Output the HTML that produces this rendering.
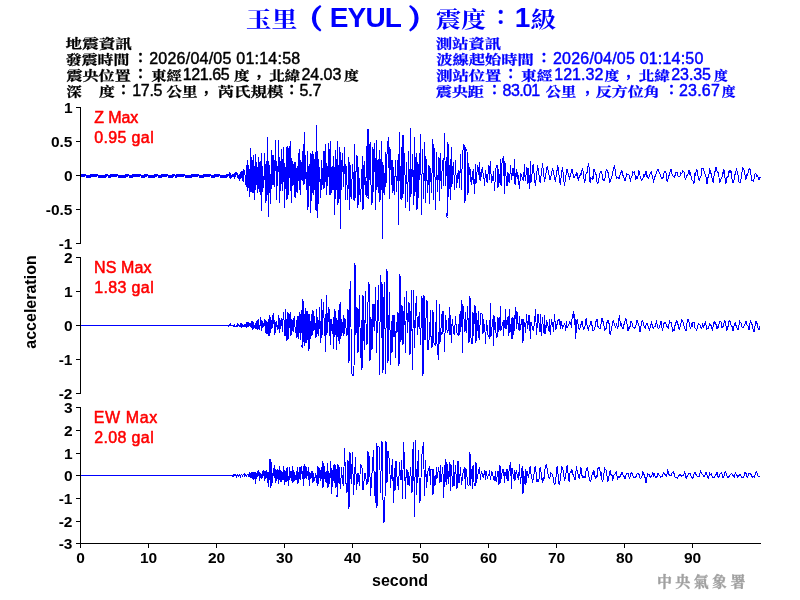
<!DOCTYPE html>
<html><head><meta charset="utf-8"><title>玉里（EYUL）震度：1級</title>
<style>
html,body{margin:0;padding:0;background:#fff;}
body{width:800px;height:600px;position:relative;overflow:hidden;}
svg{position:absolute;left:0;top:0;display:block;}
</style></head><body>
<svg width="800" height="600" viewBox="0 0 800 600">
<rect width="800" height="600" fill="#fff"/>
<g fill="none" stroke="#0000ff" stroke-width="1" shape-rendering="crispEdges" stroke-linejoin="miter">
<polyline points="81.00,174.5 81.50,175.5 82.00,174.5 82.50,175.5 83.00,174.5 83.50,175.5 84.00,174.5 84.50,175.5 85.00,174.5 85.50,175.5 86.00,175.5 86.50,176.5 87.00,175.5 87.50,176.5 88.00,175.5 88.50,176.5 89.00,175.5 89.50,176.5 90.00,175.5 90.50,176.5 91.00,174.5 91.50,175.5 92.00,174.5 92.50,175.5 93.00,174.5 93.50,175.5 94.00,174.5 94.50,175.5 95.00,174.5 95.50,175.5 96.00,174.5 96.50,175.5 97.00,174.5 97.50,175.5 98.00,175.5 98.50,176.5 99.00,175.5 99.50,176.5 100.00,175.5 100.50,176.5 101.00,175.5 101.50,176.5 102.00,175.5 102.50,176.5 103.00,175.5 103.50,176.5 104.00,175.5 104.50,176.5 105.00,175.5 105.50,176.5 106.00,174.5 106.50,175.5 107.00,174.5 107.50,175.5 108.00,175.5 108.50,176.5 109.00,175.5 109.50,176.5 110.00,175.5 110.50,176.5 111.00,174.5 111.50,175.5 112.00,174.5 112.50,175.5 113.00,174.5 113.50,175.5 114.00,174.5 114.50,175.5 115.00,174.5 115.50,175.5 116.00,174.5 116.50,175.5 117.00,174.5 117.50,175.5 118.00,175.5 118.50,176.5 119.00,175.5 119.50,176.5 120.00,175.5 120.50,176.5 121.00,175.5 121.50,176.5 122.00,175.5 122.50,176.5 123.00,175.5 123.50,176.5 124.00,175.5 124.50,176.5 125.00,175.5 125.50,176.5 126.00,174.5 126.50,175.5 127.00,174.5 127.50,175.5 128.00,174.5 128.50,175.5 129.00,175.5 129.50,176.5 130.00,175.5 130.50,176.5 131.00,175.5 131.50,176.5 132.00,175.5 132.50,176.5 133.00,174.5 133.50,175.5 134.00,174.5 134.50,175.5 135.00,174.5 135.50,175.5 136.00,174.5 136.50,175.5 137.00,174.5 137.50,175.5 138.00,174.5 138.50,175.5 139.00,174.5 139.50,175.5 140.00,174.5 140.50,175.5 141.00,175.5 141.50,176.5 142.00,175.5 142.50,176.5 143.00,175.5 143.50,176.5 144.00,175.5 144.50,176.5 145.00,174.5 145.50,175.5 146.00,174.5 146.50,175.5 147.00,174.5 147.50,175.5 148.00,175.5 148.50,176.5 149.00,175.5 149.50,176.5 150.00,175.5 150.50,176.5 151.00,175.5 151.50,176.5 152.00,175.5 152.50,176.5 153.00,175.5 153.50,176.5 154.00,175.5 154.50,176.5 155.00,174.5 155.50,175.5 156.00,174.5 156.50,175.5 157.00,174.5 157.50,175.5 158.00,175.5 158.50,176.5 159.00,175.5 159.50,176.5 160.00,175.5 160.50,176.5 161.00,175.5 161.50,176.5 162.00,174.5 162.50,175.5 163.00,174.5 163.50,175.5 164.00,174.5 164.50,175.5 165.00,174.5 165.50,175.5 166.00,174.5 166.50,175.5 167.00,174.5 167.50,175.5 168.00,175.5 168.50,176.5 169.00,175.5 169.50,176.5 170.00,175.5 170.50,176.5 171.00,175.5 171.50,176.5 172.00,175.5 172.50,176.5 173.00,174.5 173.50,175.5 174.00,174.5 174.50,175.5 175.00,175.5 175.50,176.5 176.00,175.5 176.50,176.5 177.00,174.5 177.50,175.5 178.00,174.5 178.50,175.5 179.00,174.5 179.50,175.5 180.00,174.5 180.50,175.5 181.00,174.5 181.50,175.5 182.00,174.5 182.50,175.5 183.00,174.5 183.50,175.5 184.00,174.5 184.50,175.5 185.00,175.5 185.50,176.5 186.00,175.5 186.50,176.5 187.00,175.5 187.50,176.5 188.00,175.5 188.50,176.5 189.00,175.5 189.50,176.5 190.00,175.5 190.50,176.5 191.00,175.5 191.50,176.5 192.00,174.5 192.50,175.5 193.00,174.5 193.50,175.5 194.00,174.5 194.50,175.5 195.00,174.5 195.50,175.5 196.00,174.5 196.50,175.5 197.00,174.5 197.50,175.5 198.00,174.5 198.50,175.5 199.00,175.5 199.50,176.5 200.00,175.5 200.50,176.5 201.00,175.5 201.50,176.5 202.00,175.5 202.50,176.5 203.00,175.5 203.50,176.5 204.00,174.5 204.50,175.5 205.00,174.5 205.50,175.5 206.00,174.5 206.50,175.5 207.00,174.5 207.50,175.5 208.00,174.5 208.50,175.5 209.00,174.5 209.50,175.5 210.00,174.5 210.50,175.5 211.00,175.5 211.50,176.5 212.00,175.5 212.50,176.5 213.00,175.5 213.50,176.5 214.00,175.5 214.50,176.5 215.00,174.5 215.50,175.5 216.00,174.5 216.50,175.5 217.00,174.5 217.50,175.5 218.00,174.5 218.50,175.5 219.00,174.5 219.50,175.5 220.00,175.5 220.50,176.5 221.00,175.5 221.50,176.5 222.00,175.5 222.50,176.5 223.00,175.5 223.50,176.5 224.00,175.5 224.50,176.5 225.00,175.5 225.50,176.5 226.00,175.5 226.50,176.5 227.00,174.5 227.50,175.5 228.00,174.5 228.50,175.5 229.00,175.5 229.50,176.5 230.00,175.5 230.50,176.5 231.00,175.5 231.50,176.5 232.00,175.5 232.50,176.5 229.50,173.0 230.50,178.0 233.00,174.3 234.02,176.9 234.20,178.7 235.20,172.0 235.60,177.3 236.69,171.9 238.16,179.1 239.29,173.6 239.50,180.7 240.50,171.7 240.90,179.1 241.69,171.3 242.20,181.3 243.20,168.7 243.60,182.0 244.33,169.6 245.40,178.6 245.50,185.3 246.50,164.7 246.90,185.2 247.30,190.7 247.81,159.8 248.92,187.8 250.22,165.9 249.90,197.3 250.90,148.0 251.30,191.8 251.93,156.8 252.57,181.2 252.20,192.7 253.20,155.3 253.67,193.2 254.50,166.4 255.00,192.0 254.80,200.0 255.80,154.0 256.20,185.2 256.85,161.7 257.91,193.2 258.52,165.0 258.20,157.3 259.20,192.0 259.65,162.4 260.16,188.8 260.20,194.7 261.20,153.3 261.60,207.6 261.60,211.3 262.56,166.3 263.60,187.7 264.68,168.4 264.80,153.3 265.80,202.7 266.20,160.9 266.92,201.0 267.30,137.0 267.70,195.1 268.20,160.6 268.30,216.7 269.00,164.5 269.94,191.7 270.70,204.0 270.50,200.0 271.50,150.0 271.90,188.6 273.01,155.3 274.07,187.1 274.95,162.7 275.50,140.0 276.50,200.0 276.90,160.6 277.45,186.3 278.49,149.3 278.50,140.0 279.50,202.5 279.90,157.5 280.87,191.4 281.78,148.6 282.78,190.5 283.60,161.5 283.50,147.5 284.50,207.5 284.90,163.1 285.62,188.5 286.52,147.2 287.00,200.0 288.00,146.0 288.40,195.3 289.32,145.8 290.30,191.0 290.85,155.8 290.50,141.0 291.50,202.5 291.90,158.0 292.95,186.4 293.99,164.4 294.59,197.3 294.50,162.5 295.50,197.5 295.90,162.2 296.49,191.8 297.12,166.0 297.78,193.2 298.55,153.4 299.49,190.0 299.50,149.0 300.50,195.0 300.90,160.1 302.06,181.1 303.25,144.0 303.50,185.0 304.50,132.5 304.90,183.5 305.67,155.1 306.18,190.0 307.36,164.0 307.00,150.0 308.00,210.0 308.40,165.9 309.53,186.4 310.25,153.2 310.93,207.5 310.50,212.5 311.50,154.0 311.90,200.5 312.65,150.9 313.17,195.1 313.93,153.6 314.52,189.6 315.42,151.7 315.50,210.0 316.50,125.0 316.90,209.7 317.50,217.5 317.91,150.9 318.61,204.3 319.29,166.6 320.46,190.9 320.50,197.5 321.50,160.0 321.90,189.9 322.42,167.9 323.40,188.8 324.01,151.5 324.62,187.5 325.22,153.6 325.91,182.4 325.50,144.0 326.50,195.0 326.90,163.2 327.78,186.2 328.95,143.2 329.50,195.0 330.50,141.0 330.90,195.4 332.06,166.1 332.64,190.1 333.21,156.5 333.89,190.4 334.59,166.7 334.50,215.0 335.50,150.0 335.90,199.4 336.42,158.6 337.40,186.3 337.00,139.0 338.00,205.0 338.40,164.6 339.05,198.6 339.88,150.0 339.50,147.5 340.50,228.8 340.90,151.8 341.44,190.4 342.62,153.5 343.35,187.4 344.12,162.3 344.50,147.5 345.50,200.0 345.90,163.9 347.83,199.9 348.50,157.5 349.50,210.0 349.90,161.6 351.08,199.1 352.74,163.7 353.50,200.0 354.50,144.0 354.90,200.6 356.60,156.5 357.00,155.0 358.00,207.5 358.40,166.6 360.37,201.8 362.32,163.6 362.00,156.0 363.00,210.0 364.10,161.5 365.45,195.3 367.05,145.0 367.00,197.5 368.00,129.5 368.53,198.6 370.05,142.3 371.20,192.9 372.00,205.0 373.00,147.5 373.40,192.4 374.86,143.5 375.50,210.0 376.50,140.0 376.90,189.7 378.05,159.5 379.27,201.6 379.50,150.0 380.50,200.0 380.90,162.6 381.50,141.0 382.50,238.8 382.90,161.8 384.07,194.1 384.50,195.0 385.50,152.5 385.90,186.9 387.25,147.4 388.50,137.5 389.50,199.0 389.90,147.0 391.75,184.8 392.00,160.0 393.00,192.5 393.41,167.0 394.96,189.4 394.50,195.0 395.50,160.0 396.49,191.7 398.29,153.9 398.50,225.0 399.50,132.5 400.21,199.3 401.47,147.0 402.00,200.0 403.00,135.0 403.40,194.0 404.53,153.4 405.68,203.6 405.50,207.5 406.50,162.5 407.51,202.1 408.76,151.0 409.50,211.0 410.50,128.0 410.90,197.0 412.61,153.9 413.50,205.0 414.50,137.5 414.90,195.7 416.11,153.0 417.00,210.0 418.00,162.5 418.40,197.5 420.35,143.4 420.50,134.0 421.50,215.0 422.33,149.0 423.78,199.2 424.50,142.5 425.50,202.5 425.90,156.3 427.58,193.1 428.50,165.0 429.50,204.0 429.90,166.0 431.73,193.0 432.50,139.0 433.50,200.0 433.90,144.1 435.87,202.3 435.50,210.0 436.50,152.5 437.22,191.9 438.61,162.0 438.50,157.5 439.50,201.0 440.07,152.6 441.32,189.4 442.46,159.6 443.74,185.8 443.50,185.0 444.50,133.0 445.50,185.6 447.21,153.1 447.00,217.5 448.00,142.5 448.69,196.6 450.25,159.3 450.50,200.0 451.50,147.5 451.90,186.5 453.25,161.8 454.77,188.8 454.50,190.0 455.50,160.0 456.45,188.3 458.25,171.1 458.50,170.0 459.50,187.5 460.24,163.1 460.50,154.0 461.50,190.0 462.42,153.2 464.00,144.0 465.00,202.5 465.40,147.2 467.00,151.0 468.00,195.0 468.40,163.1 470.92,181.5 470.50,169.0 471.50,185.0 473.27,168.8 474.50,194.0 475.50,164.0 475.90,184.4 477.66,164.7 479.66,179.8 479.50,162.5 480.50,181.0 482.22,167.1 484.78,184.7 484.50,186.0 485.50,170.0 487.09,182.8 488.96,165.0 489.50,180.0 490.50,161.0 491.37,183.4 493.87,172.6 493.50,171.0 494.50,191.0 495.85,168.2 497.00,165.0 498.00,187.5 498.40,168.8 500.29,185.2 500.50,159.0 501.50,186.0 501.91,163.5 503.50,156.0 504.50,194.0 504.90,161.0 506.71,185.4 507.00,186.0 508.00,172.5 509.09,182.8 510.82,166.3 510.50,165.0 511.50,180.0 513.10,167.8 514.86,183.8 514.50,159.0 515.50,185.0 516.55,168.6 518.89,185.0 518.50,175.0 519.50,189.0 520.58,172.7 522.90,180.0 523.50,180.0 524.50,164.0 525.19,181.1 527.00,167.5 528.00,184.0 528.40,167.6 529.50,189.0 530.50,161.0 530.90,183.2 533.12,164.4 535.36,186.3 537.66,165.3 540.15,182.8 542.55,163.4 544.48,181.8 547.23,166.0 550.02,180.2 552.65,168.6 555.35,181.7 557.82,165.1 560.20,184.5 562.50,166.6 564.40,186.1 566.95,169.3 569.57,178.4 572.01,169.4 574.02,178.1 575.89,174.7 576.39,176.2 576.89,173.1 577.39,174.1 577.89,178.3 578.39,179.8 578.89,177.9 579.39,177.9 579.89,175.8 580.39,175.5 580.89,173.6 581.39,173.9 581.89,170.8 582.39,168.1 582.89,170.7 583.39,173.1 583.89,178.2 584.39,182.3 584.89,182.5 585.39,177.5 585.89,175.1 586.39,171.7 586.89,173.5 587.39,171.1 587.89,167.2 588.39,163.1 588.89,164.9 589.39,175.1 589.89,181.8 590.39,183.1 590.89,177.9 591.39,178.4 591.89,178.6 592.39,177.4 592.89,179.7 593.39,176.1 593.89,169.6 594.39,169.3 594.89,171.7 595.39,174.4 595.89,173.8 596.39,174.9 596.89,181.6 597.39,183.2 597.89,183.3 598.39,181.3 598.89,179.0 599.39,176.5 599.89,174.2 600.39,171.2 600.89,171.1 601.39,171.7 601.89,173.3 602.39,175.9 602.89,179.4 603.39,180.4 603.89,179.4 604.39,180.0 604.89,178.6 605.39,175.3 605.89,171.8 606.39,169.7 606.89,169.7 607.39,172.5 607.89,171.8 608.39,172.5 608.89,177.1 609.39,182.3 609.89,181.7 610.39,181.7 610.89,179.8 611.39,178.0 611.89,176.9 612.39,172.4 612.89,171.2 613.39,169.1 613.89,167.2 614.39,165.1 614.89,167.0 615.39,173.6 615.89,175.7 616.39,178.4 616.89,178.2 617.39,177.3 617.89,177.3 618.39,177.7 618.89,178.7 619.39,177.7 619.89,176.2 620.39,173.2 620.89,172.2 621.39,172.4 621.89,170.2 622.39,173.3 622.89,175.4 623.39,176.3 623.89,177.7 624.39,179.8 624.89,181.0 625.39,179.2 625.89,178.1 626.39,175.0 626.89,173.3 627.39,174.6 627.89,174.4 628.39,174.1 628.89,174.3 629.39,176.3 629.89,178.6 630.39,180.5 630.89,178.7 631.39,176.6 631.89,177.1 632.39,174.3 632.89,171.9 633.39,172.0 633.89,172.3 634.39,171.9 634.89,173.8 635.39,177.3 635.89,180.0 636.39,176.5 636.89,177.4 637.39,178.2 637.89,176.2 638.39,174.0 638.89,171.0 639.39,171.8 639.89,174.5 640.39,178.5 640.89,178.3 641.39,180.7 641.89,180.8 642.39,178.8 642.89,178.4 643.39,175.8 643.89,174.1 644.39,176.1 644.89,174.5 645.39,174.5 645.89,171.4 646.39,171.7 646.89,176.0 647.39,175.7 647.89,177.1 648.39,178.4 648.89,177.1 649.39,175.2 649.89,174.8 650.39,172.9 650.89,173.1 651.39,172.2 651.89,174.6 652.39,177.2 652.89,178.5 653.39,181.7 653.89,180.5 654.39,177.4 654.89,177.1 655.39,175.0 655.89,174.2 656.39,173.6 656.89,171.3 657.39,169.3 657.89,169.2 658.39,170.1 658.89,171.6 659.39,173.7 659.89,173.6 660.39,174.5 660.89,176.2 661.39,178.2 661.89,177.3 662.39,177.6 662.89,178.3 663.39,175.8 663.89,173.2 664.39,172.3 664.89,171.7 665.39,171.4 665.89,172.5 666.39,175.3 666.89,180.9 667.39,181.0 667.89,179.0 668.39,178.7 668.89,176.0 669.39,174.1 669.89,172.4 670.39,169.1 670.89,170.9 671.39,170.0 671.89,173.1 672.39,175.5 672.89,175.6 673.39,176.7 673.89,176.5 674.39,177.1 674.89,175.9 675.39,174.5 675.89,172.7 676.39,172.3 676.89,172.7 677.39,173.0 677.89,175.4 678.39,176.5 678.89,176.2 679.39,176.3 679.89,176.4 680.39,175.1 680.89,172.4 681.39,173.7 681.89,173.4 682.39,172.4 682.89,170.7 683.39,171.3 683.89,171.8 684.39,173.6 684.89,177.0 685.39,179.7 685.89,179.5 686.39,175.3 686.89,175.1 687.39,175.3 687.89,174.8 688.39,172.6 688.89,170.6 689.39,171.0 689.89,174.1 690.39,173.2 690.89,175.1 691.39,177.6 691.89,179.8 692.39,180.5 692.89,181.0 693.39,181.0 693.89,184.4 694.39,179.6 694.89,172.6 695.39,174.4 695.89,172.5 696.39,170.1 696.89,171.3 697.39,170.8 697.89,175.4 698.39,178.8 698.89,179.7 699.39,180.2 699.89,178.1 700.39,177.2 700.89,176.1 701.39,174.2 701.89,167.6 702.39,168.8 702.89,169.1 703.39,168.5 703.89,170.7 704.39,173.3 704.89,174.0 705.39,174.5 705.89,176.6 706.39,179.1 706.89,183.3 707.39,183.1 707.89,177.8 708.39,177.7 708.89,174.6 709.39,170.2 709.89,168.6 710.39,172.7 710.89,173.3 711.39,173.9 711.89,176.8 712.39,181.1 712.89,180.8 713.39,183.0 713.89,177.4 714.39,173.0 714.89,171.6 715.39,171.3 715.89,167.2 716.39,168.5 716.89,170.5 717.39,171.5 717.89,172.6 718.39,172.8 718.89,175.7 719.39,182.8 719.89,182.5 720.39,179.6 720.89,179.2 721.39,178.4 721.89,177.8 722.39,173.3 722.89,174.2 723.39,171.7 723.89,169.6 724.39,171.7 724.89,177.1 725.39,180.4 725.89,183.5 726.39,182.2 726.89,177.8 727.39,177.0 727.89,176.6 728.39,176.1 728.89,171.7 729.39,169.8 729.89,172.3 730.39,172.2 730.89,170.1 731.39,173.7 731.89,178.2 732.39,182.0 732.89,183.0 733.39,182.0 733.89,180.0 734.39,179.6 734.89,174.7 735.39,174.6 735.89,171.6 736.39,168.4 736.89,170.7 737.39,173.6 737.89,174.3 738.39,176.6 738.89,182.1 739.39,182.6 739.89,182.7 740.39,182.5 740.89,179.1 741.39,177.1 741.89,173.3 742.39,169.1 742.89,167.4 743.39,168.5 743.89,168.6 744.39,172.8 744.89,173.6 745.39,178.2 745.89,179.7 746.39,178.0 746.89,174.8 747.39,175.1 747.89,174.2 748.39,169.2 748.89,169.0 749.39,169.5 749.89,168.6 750.39,170.4 750.89,173.4 751.39,178.7 751.89,180.2 752.39,180.3 752.89,180.8 753.39,181.2 753.89,180.2 754.39,176.1 754.89,174.5 755.39,173.4 755.89,173.7 756.39,174.1 756.89,176.2 757.39,176.0 757.89,176.6 758.39,179.0 758.89,179.5 759.39,179.3 759.89,177.1 760.39,178.1"/>
<polyline points="81.00,325.5 228.50,325.5 228.50,325.3 228.50,326.0 229.50,325.0 229.90,325.7 229.50,326.0 230.50,324.0 231.18,325.9 232.02,325.0 233.35,326.5 233.00,325.0 234.00,327.0 234.40,325.0 235.54,326.4 236.50,326.5 237.50,324.5 237.90,326.1 238.85,324.8 240.06,326.4 240.50,324.0 241.50,326.5 241.90,324.1 243.08,326.6 243.96,324.9 243.50,327.0 244.50,324.0 244.92,326.8 246.40,323.3 247.00,327.5 248.00,322.0 248.40,327.2 249.89,323.1 251.40,328.1 252.00,321.0 253.00,329.5 253.40,321.8 254.37,328.3 255.24,323.5 255.98,328.9 257.04,320.5 257.00,320.0 258.00,330.0 258.41,319.3 259.58,329.8 260.61,321.8 260.50,317.0 261.50,331.0 261.90,319.7 262.69,327.7 264.06,322.7 264.50,319.0 265.50,332.5 265.90,320.1 267.00,333.9 268.30,318.9 268.50,336.0 269.50,315.5 269.90,335.5 270.78,317.3 271.93,329.1 272.86,314.9 273.50,314.0 274.50,334.5 274.90,319.6 275.61,332.8 276.40,321.3 277.88,330.1 278.84,321.6 278.50,315.0 279.50,332.5 279.90,317.9 280.61,328.9 281.47,317.7 282.42,332.1 283.34,311.9 284.81,329.4 284.50,336.0 285.50,309.5 285.90,335.8 286.65,319.2 287.00,341.0 288.00,312.5 288.40,338.5 289.79,314.4 290.54,335.6 290.50,312.5 291.50,335.0 291.90,319.3 293.10,331.5 294.15,315.8 295.51,333.2 296.85,319.7 297.00,337.5 298.00,316.0 298.40,339.0 299.14,311.6 300.28,339.5 301.14,310.4 302.07,334.1 302.00,347.5 303.00,298.8 303.40,342.0 304.26,314.4 305.00,346.0 305.40,308.4 306.19,342.7 307.00,311.0 308.00,340.0 308.40,314.5 309.00,351.0 309.40,313.8 310.17,338.5 311.34,314.2 312.00,336.0 313.00,310.0 313.40,330.8 314.22,316.2 315.38,336.9 315.50,337.5 316.50,309.0 316.90,336.8 317.81,316.8 318.85,331.0 318.50,336.0 319.50,307.5 320.07,331.6 320.50,342.5 321.50,299.0 321.90,337.7 323.33,302.4 324.74,335.5 325.59,314.0 325.50,352.5 326.50,295.0 326.96,334.5 328.29,307.3 329.71,335.6 329.50,309.0 330.50,345.0 330.99,319.1 332.28,333.6 333.54,317.0 333.50,349.0 334.50,309.0 334.90,337.2 335.97,317.4 335.50,311.0 336.50,350.0 336.90,318.1 338.24,340.9 339.17,304.3 339.50,344.0 340.50,302.0 340.90,338.7 341.81,319.3 343.23,335.6 343.50,315.0 344.50,334.0 344.90,318.2 347.00,336.0 348.00,309.0 349.00,362.5 350.00,289.0 350.50,281.0 351.50,372.5 353.00,376.0 354.00,367.5 355.00,263.0 355.95,334.6 357.00,307.5 358.00,352.5 358.70,318.9 359.50,295.0 360.50,357.5 361.20,320.4 362.00,370.0 363.00,295.0 363.70,334.7 364.50,350.0 365.50,291.0 366.20,334.9 367.00,345.0 368.00,302.5 369.00,282.0 370.00,361.0 370.95,316.7 372.00,350.0 373.00,304.0 374.20,330.9 375.50,287.5 376.50,352.5 377.45,316.9 378.50,285.0 379.50,355.0 379.50,375.0 380.50,275.0 381.20,338.2 382.00,282.5 383.00,372.5 383.70,306.4 384.50,282.5 385.50,373.8 386.20,312.1 387.00,268.8 388.00,362.5 389.50,292.5 390.50,365.0 391.20,321.2 392.00,352.5 393.00,315.0 393.70,337.4 394.50,315.0 395.50,357.5 396.20,322.3 397.00,332.5 398.00,312.5 399.00,366.0 400.00,273.8 400.95,342.2 402.00,305.0 403.00,345.0 403.70,319.6 404.50,297.5 405.50,352.5 406.50,291.0 407.50,332.5 409.00,302.5 410.00,355.0 411.50,290.0 412.50,370.0 413.50,290.0 414.50,347.5 415.45,310.9 416.50,296.0 417.50,335.0 418.45,321.1 419.50,312.5 420.50,345.0 422.00,296.0 423.00,376.0 424.00,295.0 425.00,340.0 425.95,319.2 427.00,300.0 428.00,350.0 429.50,335.0 430.50,310.0 430.90,335.2 432.00,347.5 433.00,310.0 433.40,342.6 435.50,345.0 436.50,300.0 436.90,343.3 438.50,360.0 439.50,304.0 439.90,343.9 442.14,312.4 442.00,335.0 443.00,311.0 444.51,343.0 444.50,352.5 445.50,315.0 447.35,333.3 448.50,330.0 449.50,307.5 450.03,335.4 450.50,315.0 451.50,342.5 452.14,319.2 453.91,333.5 454.50,334.0 455.50,316.0 456.63,332.9 458.50,335.0 459.50,314.0 459.90,334.5 461.50,300.0 462.50,352.5 462.90,304.1 464.99,332.1 465.50,312.5 466.50,332.5 467.57,306.4 469.00,342.5 470.00,296.0 470.40,334.7 472.00,344.0 473.00,312.5 473.40,335.7 475.00,305.0 476.00,342.5 476.40,313.1 478.54,337.5 478.50,311.0 479.50,340.0 480.39,313.7 482.00,314.0 483.00,334.0 483.40,319.1 485.93,338.9 485.50,344.0 486.50,320.0 488.00,334.7 489.50,337.5 490.50,303.0 490.90,336.9 493.42,315.5 493.50,346.0 494.50,316.0 496.18,335.1 497.00,337.5 498.00,317.5 498.40,330.9 499.50,329.0 500.50,306.0 500.90,330.5 503.61,320.3 503.50,336.0 504.50,320.0 505.76,329.3 505.50,309.0 506.50,329.0 508.22,315.6 508.50,336.0 509.50,309.0 509.94,332.5 511.84,317.9 512.00,339.0 513.00,317.5 513.78,335.1 515.50,307.5 516.50,329.0 516.90,310.7 518.50,330.0 519.50,316.0 519.90,330.6 522.00,319.0 523.00,342.5 523.40,318.7 525.84,331.8 525.50,332.5 526.50,314.0 527.67,328.9 529.00,315.0 530.00,325.0 529.50,322.5 530.50,339.0 530.90,322.2 533.49,331.2 535.25,313.6 535.50,309.5 536.50,335.0 538.01,314.0 540.02,332.1 540.50,314.0 541.50,336.0 542.29,317.4 544.17,334.1 544.50,315.0 545.50,334.0 546.65,320.0 549.34,331.9 549.50,319.0 550.50,335.0 551.35,318.6 553.74,330.8 553.50,331.0 554.50,314.0 555.64,330.0 558.33,319.2 559.50,320.0 560.50,329.0 560.90,321.1 562.63,327.9 564.82,322.9 565.50,331.0 566.50,321.0 567.06,328.3 569.72,322.1 570.50,322.5 571.50,327.5 571.90,320.0 573.50,311.0 574.50,325.0 574.90,313.6 575.50,339.0 577.05,319.5 579.37,330.1 582.07,320.9 582.57,323.3 583.07,327.5 583.57,329.0 584.07,329.0 584.57,327.7 585.07,325.4 585.57,322.6 586.07,318.1 586.57,318.5 587.07,325.4 587.57,327.2 588.07,328.9 588.57,329.8 589.07,326.7 589.57,325.7 590.07,325.1 590.57,323.9 591.07,321.1 591.57,321.4 592.07,326.0 592.57,329.1 593.07,330.8 593.57,330.6 594.07,330.2 594.57,328.2 595.07,326.8 595.57,323.5 596.07,321.2 596.57,321.2 597.07,319.1 597.57,319.5 598.07,327.3 598.57,327.5 599.07,327.8 599.57,328.7 600.07,329.0 600.57,326.3 601.07,323.6 601.57,321.0 602.07,318.2 602.57,319.1 603.07,322.4 603.57,321.5 604.07,326.6 604.57,329.8 605.07,329.2 605.57,329.5 606.07,328.5 606.57,322.7 607.07,322.4 607.57,320.6 608.07,319.8 608.57,320.4 609.07,323.9 609.57,329.8 610.07,334.9 610.57,335.0 611.07,330.9 611.57,327.1 612.07,326.2 612.57,324.6 613.07,320.4 613.57,321.4 614.07,323.5 614.57,325.0 615.07,325.8 615.57,326.9 616.07,326.1 616.57,324.5 617.07,325.9 617.57,328.5 618.07,326.7 618.57,321.1 619.07,318.0 619.57,315.5 620.07,321.3 620.57,324.6 621.07,323.6 621.57,325.0 622.07,327.0 622.57,327.4 623.07,328.8 623.57,327.5 624.07,323.8 624.57,324.2 625.07,320.4 625.57,319.1 626.07,319.6 626.57,320.9 627.07,324.2 627.57,330.2 628.07,330.8 628.57,328.8 629.07,326.6 629.57,327.8 630.07,326.5 630.57,323.4 631.07,320.7 631.57,322.9 632.07,323.1 632.57,323.2 633.07,327.3 633.57,327.4 634.07,328.1 634.57,328.6 635.07,327.4 635.57,326.7 636.07,324.4 636.57,321.9 637.07,320.2 637.57,321.7 638.07,323.3 638.57,325.4 639.07,326.5 639.57,328.2 640.07,332.4 640.57,328.8 641.07,325.7 641.57,322.8 642.07,320.6 642.57,320.2 643.07,322.1 643.57,324.5 644.07,325.9 644.57,327.6 645.07,328.4 645.57,327.2 646.07,325.1 646.57,323.9 647.07,323.6 647.57,325.0 648.07,326.0 648.57,328.1 649.07,328.4 649.57,329.6 650.07,327.5 650.57,324.6 651.07,324.7 651.57,322.8 652.07,323.9 652.57,326.7 653.07,328.4 653.57,327.8 654.07,326.6 654.57,326.6 655.07,326.9 655.57,325.3 656.07,322.6 656.57,321.5 657.07,324.7 657.57,327.1 658.07,328.0 658.57,328.6 659.07,327.5 659.57,326.1 660.07,325.1 660.57,321.8 661.07,321.1 661.57,324.0 662.07,328.6 662.57,329.7 663.07,327.6 663.57,325.8 664.07,323.2 664.57,323.0 665.07,322.2 665.57,323.0 666.07,323.9 666.57,325.9 667.07,326.5 667.57,326.7 668.07,327.9 668.57,328.2 669.07,323.9 669.57,321.3 670.07,322.3 670.57,322.7 671.07,322.5 671.57,323.5 672.07,327.3 672.57,331.3 673.07,331.1 673.57,330.3 674.07,328.7 674.57,331.2 675.07,324.7 675.57,323.0 676.07,322.9 676.57,321.1 677.07,321.4 677.57,322.0 678.07,324.9 678.57,326.8 679.07,329.1 679.57,329.2 680.07,327.1 680.57,325.5 681.07,322.4 681.57,320.3 682.07,320.9 682.57,320.8 683.07,322.1 683.57,325.4 684.07,325.9 684.57,327.2 685.07,328.9 685.57,330.5 686.07,330.2 686.57,326.4 687.07,322.5 687.57,319.7 688.07,319.3 688.57,320.2 689.07,322.7 689.57,324.6 690.07,327.3 690.57,328.0 691.07,327.0 691.57,325.0 692.07,326.3 692.57,325.9 693.07,322.0 693.57,322.0 694.07,322.2 694.57,324.9 695.07,327.9 695.57,328.2 696.07,329.3 696.57,330.1 697.07,328.6 697.57,326.8 698.07,324.3 698.57,323.9 699.07,324.2 699.57,324.5 700.07,325.4 700.57,326.6 701.07,328.7 701.57,328.4 702.07,326.4 702.57,323.5 703.07,325.1 703.57,328.2 704.07,326.0 704.57,324.1 705.07,322.9 705.57,322.2 706.07,325.3 706.57,329.5 707.07,328.9 707.57,328.8 708.07,328.4 708.57,326.8 709.07,325.8 709.57,322.9 710.07,324.6 710.57,325.0 711.07,325.5 711.57,326.2 712.07,329.9 712.57,330.5 713.07,326.7 713.57,324.4 714.07,321.5 714.57,323.4 715.07,324.3 715.57,323.2 716.07,324.7 716.57,326.4 717.07,328.7 717.57,327.3 718.07,327.9 718.57,325.5 719.07,323.8 719.57,322.4 720.07,321.1 720.57,321.1 721.07,322.2 721.57,325.8 722.07,327.8 722.57,327.7 723.07,325.8 723.57,326.2 724.07,322.5 724.57,321.0 725.07,321.7 725.57,324.5 726.07,326.7 726.57,330.1 727.07,330.2 727.57,328.0 728.07,326.3 728.57,322.4 729.07,320.6 729.57,321.4 730.07,321.1 730.57,323.4 731.07,325.4 731.57,326.4 732.07,326.6 732.57,329.5 733.07,331.2 733.57,329.3 734.07,325.4 734.57,324.8 735.07,322.4 735.57,322.2 736.07,326.0 736.57,327.3 737.07,327.9 737.57,329.5 738.07,330.1 738.57,327.5 739.07,324.6 739.57,321.9 740.07,323.1 740.57,322.8 741.07,323.1 741.57,325.5 742.07,327.3 742.57,327.8 743.07,328.0 743.57,327.5 744.07,325.5 744.57,324.6 745.07,323.5 745.57,322.1 746.07,321.0 746.57,322.3 747.07,325.7 747.57,326.0 748.07,326.1 748.57,327.9 749.07,329.7 749.57,327.8 750.07,322.0 750.57,319.7 751.07,321.8 751.57,324.5 752.07,324.2 752.57,326.1 753.07,329.2 753.57,331.2 754.07,331.4 754.57,327.7 755.07,326.0 755.57,322.2 756.07,321.3 756.57,322.6 757.07,323.6 757.57,326.9 758.07,328.1 758.57,328.6 759.07,329.5 759.57,329.0 760.07,326.0"/>
<polyline points="81.00,475.5 232.50,475.5 232.50,475.3 232.50,476.5 233.50,475.0 233.90,476.2 234.78,474.8 235.96,475.9 235.50,474.0 236.50,476.5 237.35,474.6 238.56,476.1 239.83,474.3 239.50,474.0 240.50,476.5 241.39,474.3 242.75,476.1 243.55,473.9 243.50,473.8 244.50,476.8 244.90,473.6 246.17,476.4 247.59,474.5 248.95,476.5 248.50,477.2 249.50,472.0 249.90,477.2 250.87,473.1 250.50,477.5 251.50,472.0 251.90,477.5 252.55,472.5 252.50,479.0 253.50,472.0 253.90,480.1 254.70,473.1 254.50,472.5 255.50,483.5 255.90,472.3 256.68,477.7 256.50,478.5 257.50,471.0 257.90,477.3 258.50,470.0 259.50,481.0 259.90,472.2 260.68,478.2 261.32,473.7 261.50,478.5 262.50,471.0 262.90,478.1 263.50,470.0 264.50,481.0 264.90,471.5 264.50,479.5 265.50,471.0 265.90,479.4 266.82,469.6 267.88,483.2 268.41,471.8 268.97,479.9 268.50,487.0 269.50,467.5 269.90,479.6 270.00,459.0 271.00,487.5 271.40,462.3 272.58,482.7 273.23,467.7 274.22,478.0 274.50,465.5 275.50,482.5 275.90,469.1 276.87,481.0 277.73,469.5 278.37,480.3 278.96,470.1 278.50,484.0 279.50,466.0 279.90,479.9 280.41,469.8 281.06,482.4 281.83,470.8 282.97,480.2 283.71,471.0 283.50,466.0 284.50,485.0 284.90,469.8 286.04,481.8 287.07,467.3 288.16,483.5 288.50,486.0 289.50,467.5 289.90,479.5 290.74,471.2 291.42,480.7 292.14,468.9 292.00,465.5 293.00,482.5 293.40,470.2 294.17,481.1 294.73,472.1 295.59,479.6 296.56,471.4 297.20,483.4 297.00,467.0 298.00,484.0 298.40,471.7 299.14,479.1 300.01,466.6 300.60,480.4 301.57,466.5 302.77,479.1 303.65,465.8 303.50,486.0 304.50,464.5 304.90,479.4 305.94,466.0 306.81,478.7 307.36,470.6 308.45,479.8 308.50,467.0 309.50,486.0 309.90,472.3 310.89,479.4 311.65,471.2 312.50,481.2 312.00,471.0 313.00,482.5 313.40,472.6 314.51,480.8 315.69,473.2 316.42,483.3 317.40,469.6 317.00,486.0 318.00,466.0 318.40,483.5 319.28,468.4 320.25,481.1 321.22,466.6 322.27,483.1 322.00,489.0 323.00,461.0 323.40,487.1 324.35,465.8 325.12,481.6 326.12,471.1 327.23,486.2 327.00,462.5 328.00,487.5 328.41,470.9 329.53,483.6 330.22,468.4 330.50,461.0 331.50,494.0 331.90,467.6 332.86,487.2 333.37,464.9 334.17,482.7 334.50,464.0 335.50,487.5 335.90,465.2 336.55,486.7 337.17,467.8 337.00,497.5 338.00,464.0 338.40,482.5 339.34,466.8 339.98,483.9 340.50,489.0 341.50,467.5 342.45,480.6 343.50,486.0 344.50,448.0 345.70,480.5 347.00,492.5 348.00,460.0 349.00,508.8 350.00,452.5 351.20,484.0 352.50,452.5 353.50,495.0 355.50,457.5 356.50,490.0 357.95,472.9 359.50,486.0 360.50,464.0 362.00,467.5 363.00,490.0 364.95,473.0 367.00,485.0 368.00,451.0 368.70,481.9 369.50,456.0 370.50,496.0 373.50,450.0 374.50,490.0 375.50,502.5 376.50,443.0 377.00,507.5 378.00,446.0 379.50,447.5 380.50,492.5 381.20,464.1 382.00,441.0 383.00,500.0 384.00,522.5 385.00,497.5 386.00,441.0 387.00,482.5 388.00,451.0 389.50,461.0 390.50,487.5 391.45,471.3 392.50,459.0 393.50,502.5 394.20,468.1 395.00,491.0 396.00,461.0 397.20,480.1 398.50,490.0 399.50,462.5 400.50,480.0 401.50,460.0 402.50,499.0 403.50,442.5 404.50,461.0 405.50,499.0 406.20,469.9 407.00,470.0 408.00,485.0 408.70,472.5 409.50,486.0 410.50,467.5 412.00,492.5 413.00,449.0 413.50,442.5 414.50,517.0 415.50,440.0 416.50,495.0 418.50,450.0 419.50,502.5 420.50,499.0 421.50,457.5 423.50,442.5 424.50,496.0 425.50,460.0 426.50,487.5 427.95,471.5 429.50,466.0 430.50,485.0 430.90,469.5 432.00,469.0 433.00,495.0 433.43,468.8 434.89,486.1 435.50,482.5 436.50,467.5 436.90,479.0 438.84,467.3 439.50,482.5 440.50,465.0 440.99,481.7 442.87,467.0 443.50,497.5 444.50,465.0 444.90,487.1 445.50,459.0 446.50,485.0 446.90,462.5 448.36,483.6 449.50,462.5 450.50,491.0 450.90,463.8 453.01,486.7 453.50,460.0 454.50,486.0 455.25,465.5 456.80,483.5 457.00,489.0 458.00,461.0 458.93,483.2 460.74,467.9 460.50,467.5 461.50,485.0 463.29,471.2 464.50,467.5 465.50,489.0 465.90,467.7 468.06,485.0 469.00,485.0 470.00,452.5 470.40,485.8 472.30,465.9 472.50,489.0 473.50,465.0 474.03,482.9 475.00,486.0 476.00,462.5 476.40,482.5 478.79,470.0 479.50,467.5 480.50,480.0 481.25,471.0 483.52,478.4 484.50,470.0 485.50,480.0 485.90,470.7 487.32,477.9 489.86,471.5 489.50,471.0 490.50,480.0 491.70,471.3 494.05,479.9 494.50,481.0 495.50,471.0 496.08,481.9 498.11,471.0 499.00,485.0 500.00,465.5 500.40,483.3 502.55,469.4 503.50,470.0 504.50,482.5 504.90,471.9 506.75,479.2 507.00,469.0 508.00,481.0 509.15,469.7 510.50,462.5 511.50,489.0 511.90,467.9 514.47,480.9 514.50,470.0 515.50,480.0 516.13,470.1 518.22,478.5 518.50,480.0 519.50,464.0 520.33,484.4 522.02,467.5 522.00,466.0 523.00,494.0 523.49,470.9 525.03,484.6 525.50,469.0 526.50,482.5 526.90,471.0 528.55,477.8 530.17,465.8 530.67,470.1 531.17,476.0 531.67,476.0 532.17,480.8 532.67,481.8 533.17,479.1 533.67,478.7 534.17,471.6 534.67,467.8 535.17,466.7 535.67,467.1 536.17,473.7 536.67,481.6 537.17,481.5 537.67,479.9 538.17,479.8 538.67,480.9 539.17,477.9 539.67,469.7 540.17,466.6 540.67,469.2 541.17,472.8 541.67,472.8 542.17,482.8 542.67,481.6 543.17,477.1 543.67,479.2 544.17,478.1 544.67,474.6 545.17,466.8 545.67,467.0 546.17,464.7 546.67,465.5 547.17,468.8 547.67,469.5 548.17,476.0 548.67,478.0 549.17,478.1 549.67,478.6 550.17,475.9 550.67,473.1 551.17,473.7 551.67,474.0 552.17,474.3 552.67,475.7 553.17,477.5 553.67,482.1 554.17,483.9 554.67,484.7 555.17,483.3 555.67,477.9 556.17,476.3 556.67,470.4 557.17,465.6 557.67,470.4 558.17,475.8 558.67,482.5 559.17,484.2 559.67,483.9 560.17,480.2 560.67,476.5 561.17,471.0 561.67,465.9 562.17,467.2 562.67,468.5 563.17,471.2 563.67,474.3 564.17,478.1 564.67,480.6 565.17,477.6 565.67,473.5 566.17,472.6 566.67,470.1 567.17,464.7 567.67,468.3 568.17,474.7 568.67,479.8 569.17,480.7 569.67,477.1 570.17,470.9 570.67,471.6 571.17,471.9 571.67,469.8 572.17,470.4 572.67,474.6 573.17,474.5 573.67,475.3 574.17,477.2 574.67,478.4 575.17,480.3 575.67,477.3 576.17,467.6 576.67,465.9 577.17,471.5 577.67,472.5 578.17,475.0 578.67,477.0 579.17,478.7 579.67,477.8 580.17,472.2 580.67,467.8 581.17,468.6 581.67,473.8 582.17,477.1 582.67,476.1 583.17,477.5 583.67,476.4 584.17,476.2 584.67,477.6 585.17,477.5 585.67,473.9 586.17,469.7 586.67,470.1 587.17,467.8 587.67,468.8 588.17,471.8 588.67,474.2 589.17,478.9 589.67,479.5 590.17,481.8 590.67,481.6 591.17,479.3 591.67,475.3 592.17,474.4 592.67,473.1 593.17,473.7 593.67,471.0 594.17,471.8 594.67,476.7 595.17,477.6 595.67,478.0 596.17,475.8 596.67,477.4 597.17,476.9 597.67,468.7 598.17,467.3 598.67,468.1 599.17,468.0 599.67,470.2 600.17,471.4 600.67,474.2 601.17,473.2 601.67,476.9 602.17,482.1 602.67,481.7 603.17,478.7 603.67,477.1 604.17,471.4 604.67,468.5 605.17,469.4 605.67,469.9 606.17,470.5 606.67,472.8 607.17,477.3 607.67,481.1 608.17,480.4 608.67,478.7 609.17,474.2 609.67,472.0 610.17,470.3 610.67,474.1 611.17,475.8 611.67,474.9 612.17,475.9 612.67,479.1 613.17,478.1 613.67,475.9 614.17,474.9 614.67,475.0 615.17,473.9 615.67,473.1 616.17,471.9 616.67,473.7 617.17,477.1 617.67,478.7 618.17,477.7 618.67,477.0 619.17,477.2 619.67,476.7 620.17,476.9 620.67,476.3 621.17,473.6 621.67,472.4 622.17,472.4 622.67,474.4 623.17,475.1 623.67,476.4 624.17,476.8 624.67,478.0 625.17,478.0 625.67,476.6 626.17,473.7 626.67,473.0 627.17,473.0 627.67,473.0 628.17,473.0 628.67,473.9 629.17,477.7 629.67,478.2 630.17,476.0 630.67,473.7 631.17,473.4 631.67,473.0 632.17,473.6 632.67,475.1 633.17,476.6 633.67,476.9 634.17,477.7 634.67,477.5 635.17,478.0 635.67,476.7 636.17,476.8 636.67,476.0 637.17,473.6 637.67,473.3 638.17,473.1 638.67,474.3 639.17,474.3 639.67,476.9 640.17,478.9 640.67,478.3 641.17,477.4 641.67,477.2 642.17,474.9 642.67,471.9 643.17,472.3 643.67,474.0 644.17,474.9 644.67,475.5 645.17,478.5 645.67,482.5 646.17,482.7 646.67,481.6 647.17,475.1 647.67,473.8 648.17,474.0 648.67,474.1 649.17,474.3 649.67,476.6 650.17,477.2 650.67,476.8 651.17,476.2 651.67,475.6 652.17,474.4 652.67,472.7 653.17,473.0 653.67,475.3 654.17,474.0 654.67,475.6 655.17,476.5 655.67,477.9 656.17,477.9 656.67,477.4 657.17,476.1 657.67,473.9 658.17,473.3 658.67,474.8 659.17,475.4 659.67,475.7 660.17,476.4 660.67,477.1 661.17,476.8 661.67,476.4 662.17,476.4 662.67,475.4 663.17,472.8 663.67,473.2 664.17,473.6 664.67,474.5 665.17,474.4 665.67,475.5 666.17,476.7 666.67,475.7 667.17,473.4 667.67,470.1 668.17,471.2 668.67,474.2 669.17,474.8 669.67,475.5 670.17,475.4 670.67,475.2 671.17,475.3 671.67,474.3 672.17,472.7 672.67,473.0 673.17,473.1 673.67,471.8 674.17,474.1 674.67,476.2 675.17,477.2 675.67,477.1 676.17,477.4 676.67,477.8 677.17,477.7 677.67,478.1 678.17,477.0 678.67,475.8 679.17,474.7 679.67,474.8 680.17,475.7 680.67,473.7 681.17,476.0 681.67,476.5 682.17,476.1 682.67,475.9 683.17,475.9 683.67,475.9 684.17,472.9 684.67,471.1 685.17,473.7 685.67,476.5 686.17,478.0 686.67,476.6 687.17,476.3 687.67,476.3 688.17,474.6 688.67,473.2 689.17,473.3 689.67,473.1 690.17,473.6 690.67,474.8 691.17,476.1 691.67,477.8 692.17,478.5 692.67,477.8 693.17,477.4 693.67,476.1 694.17,472.9 694.67,472.5 695.17,472.4 695.67,473.0 696.17,475.1 696.67,475.4 697.17,476.0 697.67,476.7 698.17,476.7 698.67,477.0 699.17,476.7 699.67,474.5 700.17,472.7 700.67,471.1 701.17,471.9 701.67,473.7 702.17,474.4 702.67,474.5 703.17,475.5 703.67,476.4 704.17,476.4 704.67,476.0 705.17,474.5 705.67,472.7 706.17,472.4 706.67,472.9 707.17,475.5 707.67,477.4 708.17,478.3 708.67,477.5 709.17,475.2 709.67,473.6 710.17,474.5 710.67,474.8 711.17,473.5 711.67,474.9 712.17,477.0 712.67,477.1 713.17,477.7 713.67,477.7 714.17,477.7 714.67,476.8 715.17,476.1 715.67,475.6 716.17,473.9 716.67,472.7 717.17,472.4 717.67,476.0 718.17,478.1 718.67,477.4 719.17,476.2 719.67,474.5 720.17,473.5 720.67,473.8 721.17,472.7 721.67,472.6 722.17,474.8 722.67,477.5 723.17,477.3 723.67,476.4 724.17,475.5 724.67,472.7 725.17,471.2 725.67,472.4 726.17,473.2 726.67,474.6 727.17,476.4 727.67,477.4 728.17,477.8 728.67,476.9 729.17,477.1 729.67,476.4 730.17,474.8 730.67,474.6 731.17,473.6 731.67,473.4 732.17,474.9 732.67,475.8 733.17,475.7 733.67,476.3 734.17,477.4 734.67,476.3 735.17,472.7 735.67,472.4 736.17,474.6 736.67,475.2 737.17,475.8 737.67,477.0 738.17,476.7 738.67,476.1 739.17,475.2 739.67,475.2 740.17,474.0 740.67,474.4 741.17,477.0 741.67,477.3 742.17,477.4 742.67,477.4 743.17,477.3 743.67,477.1 744.17,475.7 744.67,473.2 745.17,472.2 745.67,472.5 746.17,473.9 746.67,475.7 747.17,477.2 747.67,477.4 748.17,475.7 748.67,473.6 749.17,473.0 749.67,473.5 750.17,473.3 750.67,474.1 751.17,474.6 751.67,476.2 752.17,476.9 752.67,477.1 753.17,477.0 753.67,476.6 754.17,477.6 754.67,477.4 755.17,474.3 755.67,472.1 756.17,471.8 756.67,472.7 757.17,473.2 757.67,474.7 758.17,476.5 758.67,476.8 759.17,476.8 759.67,476.9 760.17,476.0"/>
</g>
<g stroke="#000" stroke-width="1" shape-rendering="crispEdges" fill="none">
<line x1="80.5" y1="107" x2="80.5" y2="244"/>
<line x1="76" y1="107.5" x2="80" y2="107.5"/>
<line x1="76" y1="141.5" x2="80" y2="141.5"/>
<line x1="76" y1="175.5" x2="80" y2="175.5"/>
<line x1="76" y1="209.5" x2="80" y2="209.5"/>
<line x1="76" y1="243.5" x2="80" y2="243.5"/>
<line x1="80.5" y1="257" x2="80.5" y2="394"/>
<line x1="76" y1="257.5" x2="80" y2="257.5"/>
<line x1="76" y1="291.5" x2="80" y2="291.5"/>
<line x1="76" y1="325.5" x2="80" y2="325.5"/>
<line x1="76" y1="359.5" x2="80" y2="359.5"/>
<line x1="76" y1="393.5" x2="80" y2="393.5"/>
<line x1="80.5" y1="407" x2="80.5" y2="544"/>
<line x1="76" y1="407.5" x2="80" y2="407.5"/>
<line x1="76" y1="430.5" x2="80" y2="430.5"/>
<line x1="76" y1="453.5" x2="80" y2="453.5"/>
<line x1="76" y1="475.5" x2="80" y2="475.5"/>
<line x1="76" y1="498.5" x2="80" y2="498.5"/>
<line x1="76" y1="521.5" x2="80" y2="521.5"/>
<line x1="76" y1="543.5" x2="80" y2="543.5"/>
<line x1="80" y1="543.5" x2="761" y2="543.5"/>
<line x1="80.5" y1="544" x2="80.5" y2="548"/>
<line x1="148.5" y1="544" x2="148.5" y2="548"/>
<line x1="216.5" y1="544" x2="216.5" y2="548"/>
<line x1="284.5" y1="544" x2="284.5" y2="548"/>
<line x1="352.5" y1="544" x2="352.5" y2="548"/>
<line x1="420.5" y1="544" x2="420.5" y2="548"/>
<line x1="488.5" y1="544" x2="488.5" y2="548"/>
<line x1="556.5" y1="544" x2="556.5" y2="548"/>
<line x1="624.5" y1="544" x2="624.5" y2="548"/>
<line x1="692.5" y1="544" x2="692.5" y2="548"/>
</g>
<g font-family="'Liberation Sans', sans-serif" font-weight="bold" font-size="15.5" fill="#000">
<text x="72.5" y="113" text-anchor="end">1</text>
<text x="72.5" y="147" text-anchor="end">0.5</text>
<text x="72.5" y="181" text-anchor="end">0</text>
<text x="72.5" y="215" text-anchor="end">-0.5</text>
<text x="72.5" y="249" text-anchor="end">-1</text>
<text x="72.5" y="263" text-anchor="end">2</text>
<text x="72.5" y="297" text-anchor="end">1</text>
<text x="72.5" y="331" text-anchor="end">0</text>
<text x="72.5" y="365" text-anchor="end">-1</text>
<text x="72.5" y="399" text-anchor="end">-2</text>
<text x="72.5" y="413" text-anchor="end">3</text>
<text x="72.5" y="436" text-anchor="end">2</text>
<text x="72.5" y="459" text-anchor="end">1</text>
<text x="72.5" y="481" text-anchor="end">0</text>
<text x="72.5" y="504" text-anchor="end">-1</text>
<text x="72.5" y="527" text-anchor="end">-2</text>
<text x="72.5" y="549" text-anchor="end">-3</text>
<text x="80.5" y="563" text-anchor="middle">0</text>
<text x="148.5" y="563" text-anchor="middle">10</text>
<text x="216.5" y="563" text-anchor="middle">20</text>
<text x="284.5" y="563" text-anchor="middle">30</text>
<text x="352.5" y="563" text-anchor="middle">40</text>
<text x="420.5" y="563" text-anchor="middle">50</text>
<text x="488.5" y="563" text-anchor="middle">60</text>
<text x="556.5" y="563" text-anchor="middle">70</text>
<text x="624.5" y="563" text-anchor="middle">80</text>
<text x="692.5" y="563" text-anchor="middle">90</text>
<text x="400" y="586" text-anchor="middle" font-size="16">second</text>
<text transform="translate(36,302) rotate(-90)" text-anchor="middle" font-size="16">acceleration</text>
</g>
<text x="245.72" y="27" font-family="'Liberation Sans', 'Noto Serif CJK TC', 'Noto Serif CJK SC', serif" font-weight="bold" font-size="22" fill="#0000ff" textLength="51.72" lengthAdjust="spacingAndGlyphs">玉里</text>
<text x="296.00" y="28.25" font-family="'Liberation Sans', 'Noto Serif CJK TC', 'Noto Serif CJK SC', serif" font-weight="bold" font-size="26" fill="#0000ff" stroke="#0000ff" stroke-width="1.6" stroke-linejoin="round">（</text>
<text x="329.80" y="27" font-family="'Liberation Sans', sans-serif" font-weight="bold" font-size="28" fill="#0000ff" textLength="72.09" lengthAdjust="spacing">EYUL</text>
<text x="408.50" y="28.25" font-family="'Liberation Sans', 'Noto Serif CJK TC', 'Noto Serif CJK SC', serif" font-weight="bold" font-size="26" fill="#0000ff" stroke="#0000ff" stroke-width="1.6" stroke-linejoin="round">）</text>
<text x="436.00" y="27" font-family="'Liberation Sans', 'Noto Serif CJK TC', 'Noto Serif CJK SC', serif" font-weight="bold" font-size="22" fill="#0000ff" textLength="50.02" lengthAdjust="spacingAndGlyphs">震度</text>
<text x="489.85" y="24.00" font-family="'Liberation Sans', 'Noto Serif CJK TC', 'Noto Serif CJK SC', serif" font-weight="bold" font-size="22" fill="#0000ff" stroke="#0000ff" stroke-width="0.3" stroke-linejoin="round">：</text>
<text x="514.80" y="27" font-family="'Liberation Sans', sans-serif" font-weight="bold" font-size="28" fill="#0000ff">1</text>
<text x="530.70" y="27" font-family="'Liberation Sans', 'Noto Serif CJK TC', 'Noto Serif CJK SC', serif" font-weight="bold" font-size="22" fill="#0000ff" textLength="25.32" lengthAdjust="spacingAndGlyphs">級</text>
<text x="65.62" y="48" font-family="'Liberation Sans', 'Noto Serif CJK TC', 'Noto Serif CJK SC', serif" font-weight="bold" font-size="13" fill="#000" stroke="#000" stroke-width="0.25" stroke-linejoin="round" textLength="66.27" lengthAdjust="spacingAndGlyphs">地震資訊</text>
<text x="65.72" y="64" font-family="'Liberation Sans', 'Noto Serif CJK TC', 'Noto Serif CJK SC', serif" font-weight="bold" font-size="13" fill="#000" stroke="#000" stroke-width="0.25" stroke-linejoin="round" textLength="63.67" lengthAdjust="spacingAndGlyphs">發震時間</text>
<text x="133.25" y="62.80" font-family="'Liberation Sans', 'Noto Serif CJK TC', 'Noto Serif CJK SC', serif" font-weight="bold" font-size="14.5" fill="#000" stroke="#000" stroke-width="0.4" stroke-linejoin="round">：</text>
<text x="149.22" y="64" font-family="'Liberation Sans', sans-serif" font-weight="normal" font-size="16" fill="#000" stroke="#000" stroke-width="0.45" stroke-linejoin="round" textLength="150.96" lengthAdjust="spacing">2026/04/05 01:14:58</text>
<text x="66.53" y="80" font-family="'Liberation Sans', 'Noto Serif CJK TC', 'Noto Serif CJK SC', serif" font-weight="bold" font-size="13" fill="#000" stroke="#000" stroke-width="0.25" stroke-linejoin="round" textLength="64.17" lengthAdjust="spacingAndGlyphs">震央位置</text>
<text x="133.25" y="78.80" font-family="'Liberation Sans', 'Noto Serif CJK TC', 'Noto Serif CJK SC', serif" font-weight="bold" font-size="14.5" fill="#000" stroke="#000" stroke-width="0.4" stroke-linejoin="round">：</text>
<text x="151.32" y="80" font-family="'Liberation Sans', 'Noto Serif CJK TC', 'Noto Serif CJK SC', serif" font-weight="bold" font-size="13" fill="#000" stroke="#000" stroke-width="0.25" stroke-linejoin="round" textLength="30.57" lengthAdjust="spacingAndGlyphs">東經</text>
<text x="182.82" y="80" font-family="'Liberation Sans', sans-serif" font-weight="normal" font-size="16" fill="#000" stroke="#000" stroke-width="0.45" stroke-linejoin="round" textLength="46.79" lengthAdjust="spacing">121.65</text>
<text x="233.93" y="80" font-family="'Liberation Sans', 'Noto Serif CJK TC', 'Noto Serif CJK SC', serif" font-weight="bold" font-size="13" fill="#000" stroke="#000" stroke-width="0.25" stroke-linejoin="round" textLength="15.47" lengthAdjust="spacingAndGlyphs">度</text>
<text x="251.65" y="83.30" font-family="'Liberation Sans', 'Noto Serif CJK TC', 'Noto Serif CJK SC', serif" font-weight="bold" font-size="14.5" fill="#000" stroke="#000" stroke-width="0.4" stroke-linejoin="round">，</text>
<text x="268.93" y="80" font-family="'Liberation Sans', 'Noto Serif CJK TC', 'Noto Serif CJK SC', serif" font-weight="bold" font-size="13" fill="#000" stroke="#000" stroke-width="0.25" stroke-linejoin="round" textLength="31.27" lengthAdjust="spacingAndGlyphs">北緯</text>
<text x="301.43" y="80" font-family="'Liberation Sans', sans-serif" font-weight="normal" font-size="16" fill="#000" stroke="#000" stroke-width="0.45" stroke-linejoin="round" textLength="39.90" lengthAdjust="spacing">24.03</text>
<text x="344.12" y="80" font-family="'Liberation Sans', 'Noto Serif CJK TC', 'Noto Serif CJK SC', serif" font-weight="bold" font-size="13" fill="#000" stroke="#000" stroke-width="0.25" stroke-linejoin="round" textLength="14.77" lengthAdjust="spacingAndGlyphs">度</text>
<text x="66.53" y="96" font-family="'Liberation Sans', 'Noto Serif CJK TC', 'Noto Serif CJK SC', serif" font-weight="bold" font-size="13" fill="#000" stroke="#000" stroke-width="0.25" stroke-linejoin="round" textLength="15.37" lengthAdjust="spacingAndGlyphs">深</text>
<text x="99.12" y="96" font-family="'Liberation Sans', 'Noto Serif CJK TC', 'Noto Serif CJK SC', serif" font-weight="bold" font-size="13" fill="#000" stroke="#000" stroke-width="0.25" stroke-linejoin="round" textLength="15.77" lengthAdjust="spacingAndGlyphs">度</text>
<text x="116.30" y="94.80" font-family="'Liberation Sans', 'Noto Serif CJK TC', 'Noto Serif CJK SC', serif" font-weight="bold" font-size="14.5" fill="#000" stroke="#000" stroke-width="0.4" stroke-linejoin="round">：</text>
<text x="132.32" y="96" font-family="'Liberation Sans', sans-serif" font-weight="normal" font-size="16" fill="#000" stroke="#000" stroke-width="0.45" stroke-linejoin="round" textLength="30.09" lengthAdjust="spacing">17.5</text>
<text x="166.43" y="96" font-family="'Liberation Sans', 'Noto Serif CJK TC', 'Noto Serif CJK SC', serif" font-weight="bold" font-size="13" fill="#000" stroke="#000" stroke-width="0.25" stroke-linejoin="round" textLength="30.97" lengthAdjust="spacingAndGlyphs">公里</text>
<text x="199.00" y="99.30" font-family="'Liberation Sans', 'Noto Serif CJK TC', 'Noto Serif CJK SC', serif" font-weight="bold" font-size="14.5" fill="#000" stroke="#000" stroke-width="0.4" stroke-linejoin="round">，</text>
<text x="217.61" y="96" font-family="'Liberation Sans', 'Noto Serif CJK TC', 'Noto Serif CJK SC', serif" font-weight="bold" font-size="13" fill="#000" stroke="#000" stroke-width="0.25" stroke-linejoin="round" textLength="65.99" lengthAdjust="spacingAndGlyphs">芮氏規模</text>
<text x="284.50" y="94.80" font-family="'Liberation Sans', 'Noto Serif CJK TC', 'Noto Serif CJK SC', serif" font-weight="bold" font-size="14.5" fill="#000" stroke="#000" stroke-width="0.4" stroke-linejoin="round">：</text>
<text x="299.62" y="96" font-family="'Liberation Sans', sans-serif" font-weight="normal" font-size="16" fill="#000" stroke="#000" stroke-width="0.45" stroke-linejoin="round" textLength="21.70" lengthAdjust="spacing">5.7</text>
<text x="436.12" y="48" font-family="'Liberation Sans', 'Noto Serif CJK TC', 'Noto Serif CJK SC', serif" font-weight="bold" font-size="13" fill="#0000ff" stroke="#0000ff" stroke-width="0.25" stroke-linejoin="round" textLength="64.77" lengthAdjust="spacingAndGlyphs">測站資訊</text>
<text x="436.32" y="64" font-family="'Liberation Sans', 'Noto Serif CJK TC', 'Noto Serif CJK SC', serif" font-weight="bold" font-size="13" fill="#0000ff" stroke="#0000ff" stroke-width="0.25" stroke-linejoin="round" textLength="97.57" lengthAdjust="spacingAndGlyphs">波線起始時間</text>
<text x="536.75" y="62.80" font-family="'Liberation Sans', 'Noto Serif CJK TC', 'Noto Serif CJK SC', serif" font-weight="bold" font-size="14.5" fill="#0000ff" stroke="#0000ff" stroke-width="0.4" stroke-linejoin="round">：</text>
<text x="553.02" y="64" font-family="'Liberation Sans', sans-serif" font-weight="normal" font-size="16" fill="#0000ff" stroke="#0000ff" stroke-width="0.45" stroke-linejoin="round" textLength="150.31" lengthAdjust="spacing">2026/04/05 01:14:50</text>
<text x="436.32" y="80" font-family="'Liberation Sans', 'Noto Serif CJK TC', 'Noto Serif CJK SC', serif" font-weight="bold" font-size="13" fill="#0000ff" stroke="#0000ff" stroke-width="0.25" stroke-linejoin="round" textLength="65.07" lengthAdjust="spacingAndGlyphs">測站位置</text>
<text x="503.45" y="78.80" font-family="'Liberation Sans', 'Noto Serif CJK TC', 'Noto Serif CJK SC', serif" font-weight="bold" font-size="14.5" fill="#0000ff" stroke="#0000ff" stroke-width="0.4" stroke-linejoin="round">：</text>
<text x="521.12" y="80" font-family="'Liberation Sans', 'Noto Serif CJK TC', 'Noto Serif CJK SC', serif" font-weight="bold" font-size="13" fill="#0000ff" stroke="#0000ff" stroke-width="0.25" stroke-linejoin="round" textLength="31.47" lengthAdjust="spacingAndGlyphs">東經</text>
<text x="554.23" y="80" font-family="'Liberation Sans', sans-serif" font-weight="normal" font-size="16" fill="#0000ff" stroke="#0000ff" stroke-width="0.45" stroke-linejoin="round" textLength="49.09" lengthAdjust="spacing">121.32</text>
<text x="604.52" y="80" font-family="'Liberation Sans', 'Noto Serif CJK TC', 'Noto Serif CJK SC', serif" font-weight="bold" font-size="13" fill="#0000ff" stroke="#0000ff" stroke-width="0.25" stroke-linejoin="round" textLength="14.67" lengthAdjust="spacingAndGlyphs">度</text>
<text x="621.30" y="83.30" font-family="'Liberation Sans', 'Noto Serif CJK TC', 'Noto Serif CJK SC', serif" font-weight="bold" font-size="14.5" fill="#0000ff" stroke="#0000ff" stroke-width="0.4" stroke-linejoin="round">，</text>
<text x="638.62" y="80" font-family="'Liberation Sans', 'Noto Serif CJK TC', 'Noto Serif CJK SC', serif" font-weight="bold" font-size="13" fill="#0000ff" stroke="#0000ff" stroke-width="0.25" stroke-linejoin="round" textLength="31.27" lengthAdjust="spacingAndGlyphs">北緯</text>
<text x="671.23" y="80" font-family="'Liberation Sans', sans-serif" font-weight="normal" font-size="16" fill="#0000ff" stroke="#0000ff" stroke-width="0.45" stroke-linejoin="round" textLength="39.80" lengthAdjust="spacing">23.35</text>
<text x="713.92" y="80" font-family="'Liberation Sans', 'Noto Serif CJK TC', 'Noto Serif CJK SC', serif" font-weight="bold" font-size="13" fill="#0000ff" stroke="#0000ff" stroke-width="0.25" stroke-linejoin="round" textLength="13.77" lengthAdjust="spacingAndGlyphs">度</text>
<text x="436.12" y="96" font-family="'Liberation Sans', 'Noto Serif CJK TC', 'Noto Serif CJK SC', serif" font-weight="bold" font-size="13" fill="#0000ff" stroke="#0000ff" stroke-width="0.25" stroke-linejoin="round" textLength="47.47" lengthAdjust="spacingAndGlyphs">震央距</text>
<text x="487.15" y="94.80" font-family="'Liberation Sans', 'Noto Serif CJK TC', 'Noto Serif CJK SC', serif" font-weight="bold" font-size="14.5" fill="#0000ff" stroke="#0000ff" stroke-width="0.4" stroke-linejoin="round">：</text>
<text x="502.62" y="96" font-family="'Liberation Sans', sans-serif" font-weight="normal" font-size="16" fill="#0000ff" stroke="#0000ff" stroke-width="0.45" stroke-linejoin="round" textLength="37.60" lengthAdjust="spacing">83.01</text>
<text x="545.83" y="96" font-family="'Liberation Sans', 'Noto Serif CJK TC', 'Noto Serif CJK SC', serif" font-weight="bold" font-size="13" fill="#0000ff" stroke="#0000ff" stroke-width="0.25" stroke-linejoin="round" textLength="30.37" lengthAdjust="spacingAndGlyphs">公里</text>
<text x="580.25" y="99.30" font-family="'Liberation Sans', 'Noto Serif CJK TC', 'Noto Serif CJK SC', serif" font-weight="bold" font-size="14.5" fill="#0000ff" stroke="#0000ff" stroke-width="0.4" stroke-linejoin="round">，</text>
<text x="595.73" y="96" font-family="'Liberation Sans', 'Noto Serif CJK TC', 'Noto Serif CJK SC', serif" font-weight="bold" font-size="13" fill="#0000ff" stroke="#0000ff" stroke-width="0.25" stroke-linejoin="round" textLength="64.10" lengthAdjust="spacingAndGlyphs">反方位角</text>
<text x="664.30" y="94.80" font-family="'Liberation Sans', 'Noto Serif CJK TC', 'Noto Serif CJK SC', serif" font-weight="bold" font-size="14.5" fill="#0000ff" stroke="#0000ff" stroke-width="0.4" stroke-linejoin="round">：</text>
<text x="679.02" y="96" font-family="'Liberation Sans', sans-serif" font-weight="normal" font-size="16" fill="#0000ff" stroke="#0000ff" stroke-width="0.45" stroke-linejoin="round" textLength="40.80" lengthAdjust="spacing">23.67</text>
<text x="721.83" y="96" font-family="'Liberation Sans', 'Noto Serif CJK TC', 'Noto Serif CJK SC', serif" font-weight="bold" font-size="13" fill="#0000ff" stroke="#0000ff" stroke-width="0.25" stroke-linejoin="round" textLength="13.77" lengthAdjust="spacingAndGlyphs">度</text>
<text x="94.25" y="123" font-family="'Liberation Sans', sans-serif" font-weight="normal" font-size="16" fill="#ff0000" stroke="#ff0000" stroke-width="0.5" stroke-linejoin="round" textLength="43.95" lengthAdjust="spacing">Z Max</text>
<text x="94.25" y="143" font-family="'Liberation Sans', sans-serif" font-weight="normal" font-size="16" fill="#ff0000" stroke="#ff0000" stroke-width="0.5" stroke-linejoin="round" textLength="59.44" lengthAdjust="spacing">0.95 gal</text>
<text x="93.95" y="273" font-family="'Liberation Sans', sans-serif" font-weight="normal" font-size="16" fill="#ff0000" stroke="#ff0000" stroke-width="0.5" stroke-linejoin="round" textLength="57.51" lengthAdjust="spacing">NS Max</text>
<text x="94.25" y="293" font-family="'Liberation Sans', sans-serif" font-weight="normal" font-size="16" fill="#ff0000" stroke="#ff0000" stroke-width="0.5" stroke-linejoin="round" textLength="59.44" lengthAdjust="spacing">1.83 gal</text>
<text x="93.65" y="423" font-family="'Liberation Sans', sans-serif" font-weight="normal" font-size="16" fill="#ff0000" stroke="#ff0000" stroke-width="0.5" stroke-linejoin="round" textLength="63.55" lengthAdjust="spacing">EW Max</text>
<text x="94.15" y="443" font-family="'Liberation Sans', sans-serif" font-weight="normal" font-size="16" fill="#ff0000" stroke="#ff0000" stroke-width="0.5" stroke-linejoin="round" textLength="59.54" lengthAdjust="spacing">2.08 gal</text>
<text x="657" y="587" font-family="'Liberation Sans', 'Noto Serif CJK TC', 'Noto Serif CJK SC', serif" font-weight="bold" font-size="15" letter-spacing="3.35" fill="#a0a0a0" stroke="#a0a0a0" stroke-width="0.3">中央氣象署</text>
</svg>
</body></html>
